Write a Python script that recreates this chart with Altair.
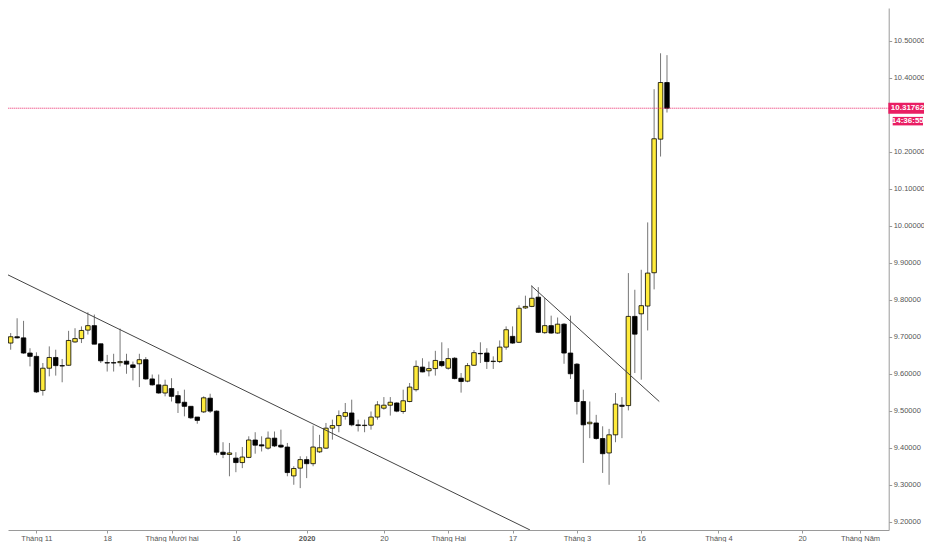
import altair as alt
import pandas as pd

# ---- candle data (bar index: 0 = 1 Nov 2019, trading days only) ----
idx = list(range(-4, 99))
opens = [9.683, 9.700, 9.697, 9.656, 9.647, 9.555, 9.615, 9.644, 9.622, 9.623,
         9.686, 9.695, 9.718, 9.730, 9.681, 9.630, 9.630, 9.630, 9.634, 9.624,
         9.627, 9.638, 9.586, 9.570, 9.548, 9.560, 9.541, 9.523, 9.512, 9.483,
         9.497, 9.534, 9.499, 9.388, 9.382, 9.372, 9.360, 9.374, 9.421, 9.408,
         9.399, 9.426, 9.407, 9.402, 9.324, 9.345, 9.368, 9.357, 9.389, 9.399,
         9.453, 9.460, 9.485, 9.494, 9.462, 9.460, 9.461, 9.483, 9.507, 9.515,
         9.521, 9.498, 9.525, 9.557, 9.618, 9.608, 9.614, 9.633, 9.615, 9.642,
         9.588, 9.580, 9.623, 9.655, 9.656, 9.633, 9.633, 9.672, 9.701, 9.685,
         9.778, 9.782, 9.807, 9.711, 9.730, 9.710, 9.734, 9.656, 9.626, 9.525,
         9.465, 9.467, 9.425, 9.386, 9.435, 9.515, 9.514, 9.755, 9.762, 9.783,
         9.873, 10.234, 10.387]
highs = [9.710, 9.750, 9.743, 9.669, 9.658, 9.629, 9.674, 9.665, 9.640, 9.716,
         9.723, 9.728, 9.766, 9.760, 9.681, 9.651, 9.654, 9.722, 9.654, 9.633,
         9.654, 9.645, 9.598, 9.598, 9.584, 9.588, 9.553, 9.557, 9.512, 9.483,
         9.539, 9.546, 9.501, 9.415, 9.413, 9.388, 9.402, 9.431, 9.442, 9.431,
         9.444, 9.444, 9.449, 9.413, 9.350, 9.377, 9.377, 9.460, 9.435, 9.467,
         9.476, 9.501, 9.521, 9.530, 9.476, 9.476, 9.498, 9.526, 9.537, 9.537,
         9.523, 9.557, 9.575, 9.636, 9.642, 9.633, 9.662, 9.685, 9.669, 9.645,
         9.602, 9.629, 9.664, 9.685, 9.669, 9.647, 9.690, 9.728, 9.728, 9.785,
         9.811, 9.838, 9.834, 9.805, 9.757, 9.752, 9.737, 9.757, 9.629, 9.557,
         9.525, 9.489, 9.458, 9.451, 9.548, 9.537, 9.872, 9.827, 9.881, 10.009,
         10.369, 10.466, 10.461]
lows = [9.665, 9.695, 9.654, 9.620, 9.548, 9.541, 9.593, 9.595, 9.577, 9.622,
        9.684, 9.683, 9.706, 9.680, 9.629, 9.606, 9.606, 9.620, 9.600, 9.582,
        9.564, 9.584, 9.568, 9.546, 9.539, 9.525, 9.494, 9.485, 9.478, 9.465,
        9.494, 9.494, 9.380, 9.372, 9.323, 9.334, 9.345, 9.372, 9.384, 9.390,
        9.395, 9.402, 9.399, 9.323, 9.300, 9.291, 9.318, 9.350, 9.386, 9.397,
        9.422, 9.442, 9.476, 9.458, 9.444, 9.442, 9.449, 9.476, 9.503, 9.487,
        9.496, 9.492, 9.523, 9.552, 9.604, 9.593, 9.595, 9.618, 9.611, 9.585,
        9.549, 9.577, 9.621, 9.629, 9.613, 9.613, 9.629, 9.665, 9.681, 9.683,
        9.775, 9.780, 9.710, 9.708, 9.708, 9.708, 9.627, 9.586, 9.490, 9.359,
        9.426, 9.422, 9.332, 9.300, 9.415, 9.426, 9.501, 9.602, 9.584, 9.717,
        9.828, 10.187, 10.306]
closes = [9.700, 9.697, 9.656, 9.647, 9.551, 9.615, 9.644, 9.622, 9.621, 9.690,
          9.695, 9.717, 9.730, 9.680, 9.635, 9.629, 9.629, 9.633, 9.626, 9.617,
          9.638, 9.586, 9.570, 9.548, 9.569, 9.539, 9.521, 9.512, 9.481, 9.474,
          9.535, 9.499, 9.388, 9.382, 9.386, 9.360, 9.375, 9.421, 9.407, 9.405,
          9.426, 9.405, 9.402, 9.333, 9.344, 9.368, 9.357, 9.402, 9.400, 9.453,
          9.460, 9.487, 9.495, 9.462, 9.460, 9.461, 9.483, 9.516, 9.515, 9.523,
          9.499, 9.527, 9.564, 9.620, 9.605, 9.614, 9.636, 9.622, 9.641, 9.587,
          9.579, 9.622, 9.657, 9.654, 9.633, 9.634, 9.672, 9.719, 9.683, 9.777,
          9.782, 9.804, 9.712, 9.730, 9.710, 9.734, 9.656, 9.600, 9.525, 9.462,
          9.469, 9.425, 9.384, 9.435, 9.518, 9.512, 9.755, 9.707, 9.784, 9.872,
          10.235, 10.387, 10.31762]

# ---- axis labels ----
tick_idx = [0, 11, 21, 31, 42, 54, 64, 74, 84, 94, 106, 119, 128]
tick_labels = ["Tháng 11", "18", "Tháng Mười hai", "16", "2020", "20", "Tháng Hai",
               "17", "Tháng 3", "16", "Tháng 4", "20", "Tháng Năm"]
bold_tick = 42
# 10.3 is hidden behind the price label in the reference
y_ticks = [9.2, 9.3, 9.4, 9.5, 9.6, 9.7, 9.8, 9.9, 10.0, 10.1, 10.2, 10.4, 10.5]

# ---- trend lines ----
trend_id = ["a", "a", "b", "b"]
trend_i = [-4.87, 76.7, 76.9, 96.8]
trend_v = [9.871, 9.178, 9.838, 9.525]

last_price = 10.31762
last_label = "10.31762"
countdown = "14:36:55"

X_DOMAIN = [-3.64, 131.68]
Y_DOMAIN = [9.1778, 10.5884]

YELLOW = "#ffeb3b"
PINK = "#e91e63"
FONT = "Liberation Sans"

df = pd.DataFrame({"i": idx, "open": opens, "high": highs, "low": lows, "close": closes})
trend_df = pd.DataFrame({"line": trend_id, "i": trend_i, "v": trend_v})
price_df = pd.DataFrame({"p": [last_price], "label": [last_label], "cd": [countdown]})

label_expr = ""
for k, lab in zip(tick_idx, tick_labels):
    label_expr += f"datum.value == {k} ? '{lab}' : "
label_expr += "''"

xscale = alt.Scale(domain=X_DOMAIN, nice=False, zero=False)
yscale = alt.Scale(domain=Y_DOMAIN, nice=False, zero=False)

xaxis = alt.Axis(values=tick_idx, labelExpr=label_expr, grid=False, title=None,
                 domainColor="#9a9a9a", tickColor="#9a9a9a", tickSize=3,
                 labelFont=FONT, labelFontSize=7.5, labelColor="#555555",
                 labelPadding=1, labelFlush=False, labelOverlap=False,
                 labelFontWeight={"condition": {"test": f"datum.value == {bold_tick}", "value": "bold"},
                                  "value": "normal"})
yaxis = alt.Axis(values=y_ticks, format=".5f", orient="right", grid=False, title=None,
                 domainColor="#9a9a9a", tickColor="#9a9a9a", tickSize=3,
                 labelFont=FONT, labelFontSize=7.5, labelColor="#555555",
                 labelPadding=1.5, labelFlush=False, labelOverlap=False)

base = alt.Chart(df).encode(x=alt.X("i:Q", scale=xscale, axis=xaxis))

wicks = base.mark_rule(color="#777777", strokeWidth=1, clip=True).encode(
    y=alt.Y("low:Q", scale=yscale, axis=yaxis), y2="high:Q")

bodies = base.mark_bar(size=4.5, stroke="#000000", strokeWidth=0.8, clip=True).encode(
    y=alt.Y("open:Q", scale=yscale), y2="close:Q",
    color=alt.condition("datum.close >= datum.open", alt.value(YELLOW), alt.value("#000000")))

trends = alt.Chart(trend_df).mark_line(color="#444444", strokeWidth=1, clip=True).encode(
    x=alt.X("i:Q", scale=xscale), y=alt.Y("v:Q", scale=yscale), detail="line:N")

price_line = alt.Chart(price_df).mark_rule(color=PINK, strokeDash=[1, 1], strokeWidth=1).encode(
    y=alt.Y("p:Q", scale=yscale))

box1 = alt.Chart(price_df).mark_rect(color=PINK, yOffset=-5.5, y2Offset=5.5).encode(
    y=alt.Y("p:Q", scale=yscale), y2="p:Q", x=alt.value(880.3), x2=alt.value(916))
box2 = alt.Chart(price_df).mark_rect(color=PINK, yOffset=8.7, y2Offset=17.2).encode(
    y=alt.Y("p:Q", scale=yscale), y2="p:Q", x=alt.value(884.7), x2=alt.value(915))
txt1 = alt.Chart(price_df).mark_text(color="white", font=FONT, fontSize=8, fontWeight="bold",
                                     align="center", baseline="middle").encode(
    y=alt.Y("p:Q", scale=yscale), x=alt.value(899.5), text="label:N")
txt2 = alt.Chart(price_df).mark_text(color="white", font=FONT, fontSize=8, fontWeight="bold",
                                     align="center", baseline="middle", yOffset=13).encode(
    y=alt.Y("p:Q", scale=yscale), x=alt.value(899.8), text="cd:N")

chart = alt.layer(wicks, bodies, trends, price_line, box1, box2, txt1, txt2).properties(
    width=880.7, height=522, autosize="none",
    padding={"left": 0, "top": 0, "right": 35.3, "bottom": 12},
    background="white",
).configure_view(stroke=None)

chart.save("out.html", embed_options={"renderer": "svg", "actions": False})
